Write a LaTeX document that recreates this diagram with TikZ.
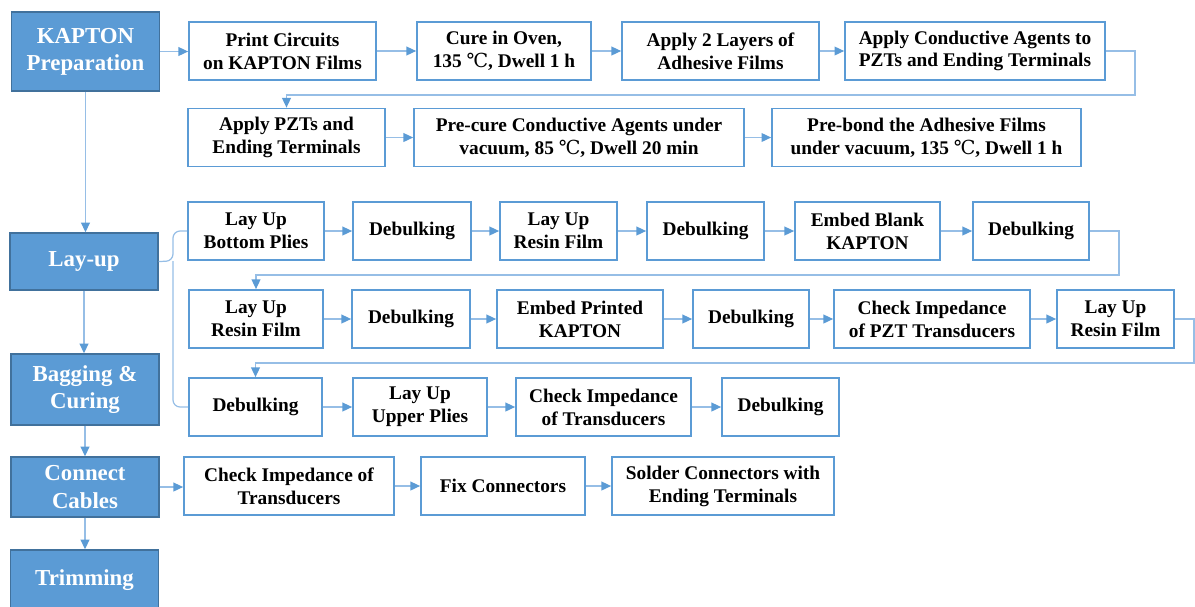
\documentclass[tikz,border=0pt]{standalone}
\usepackage{fontspec}
\setmainfont{Liberation Serif}
\newfontfamily\symfont{DejaVu Serif}
\newcommand{\degc}{{\symfont\mdseries ℃}}
\usetikzlibrary{arrows.meta}
\definecolor{boxblue}{RGB}{91,155,213}
\definecolor{edgeblue}{RGB}{65,113,156}
\definecolor{lineblue}{RGB}{150,190,230}
\tikzset{
  stage/.style={draw=edgeblue, fill=boxblue, text=white, line width=0.8pt, minimum width=2.96cm, align=center, inner sep=0pt, font=\fontsize{13}{15.5}\selectfont\bfseries},
  task/.style={draw=boxblue, fill=white, line width=1pt, minimum height=1.16cm, align=center, inner sep=0pt, font=\fontsize{11}{13}\selectfont\bfseries},
  link/.style={draw=lineblue, line width=0.7pt, -{Triangle[length=5.5pt,width=5pt,color=boxblue]}},
  plain/.style={draw=lineblue, line width=0.7pt}
}
\begin{document}
\begin{tikzpicture}[x=0.02cm,y=-0.02cm]
\useasboundingbox (0,0) rectangle (1195,606);
\node[stage, minimum height=1.58cm] (kapton) at (85.5,51.5) {KAPTON\\Preparation};
\node[stage, minimum height=1.14cm] (layup) at (84,261.5) {Lay-up};
\node[stage, minimum height=1.42cm] (bagging) at (85,389.5) {Bagging \&\\Curing};
\node[stage, minimum height=1.2cm] (connect) at (85,487) {Connect\\Cables};
\node[stage, minimum height=1.2cm] (trim) at (84.5,580) {Trimming};
\node[task, minimum width=3.74cm] (print) at (282.5,51) {Print Circuits\\on KAPTON Films};
\node[task, minimum width=3.48cm] (cure) at (504,51) {Cure in Oven,\\135 \degc, Dwell 1 h};
\node[task, minimum width=3.94cm] (layers) at (720.5,51) {Apply 2 Layers of\\Adhesive Films};
\node[task, minimum width=5.2cm] (agents) at (975,51) {Apply Conductive Agents to\\PZTs and Ending Terminals};
\node[task, minimum width=3.94cm] (pzts) at (286.5,137.5) {Apply PZTs and\\Ending Terminals};
\node[task, minimum width=6.6cm] (precure) at (579,137.5) {Pre-cure Conductive Agents under\\vacuum, 85 \degc, Dwell 20 min};
\node[task, minimum width=6.18cm] (prebond) at (926.5,137.5) {Pre-bond the Adhesive Films\\under vacuum, 135 \degc, Dwell 1 h};
\node[task, minimum width=2.72cm] (bottom) at (256,231) {Lay Up\\Bottom Plies};
\node[task, minimum width=2.36cm] (deba) at (412,231) {Debulking};
\node[task, minimum width=2.34cm] (resina) at (558.5,231) {Lay Up\\Resin Film};
\node[task, minimum width=2.34cm] (debb) at (705.5,231) {Debulking};
\node[task, minimum width=2.9cm] (blank) at (867.5,231) {Embed Blank\\KAPTON};
\node[task, minimum width=2.32cm] (debc) at (1031,231) {Debulking};
\node[task, minimum width=2.68cm] (resinb) at (256,319) {Lay Up\\Resin Film};
\node[task, minimum width=2.36cm] (debd) at (411,319) {Debulking};
\node[task, minimum width=3.32cm] (printed) at (580,319) {Embed Printed\\KAPTON};
\node[task, minimum width=2.32cm] (debe) at (751,319) {Debulking};
\node[task, minimum width=3.92cm] (pzt) at (932,319) {Check Impedance\\of PZT Transducers};
\node[task, minimum width=2.34cm] (resinc) at (1115.5,319) {Lay Up\\Resin Film};
\node[task, minimum width=2.66cm] (debf) at (255.5,407) {Debulking};
\node[task, minimum width=2.68cm] (upper) at (420,407) {Lay Up\\Upper Plies};
\node[task, minimum width=3.5cm] (impa) at (603.5,407) {Check Impedance\\of Transducers};
\node[task, minimum width=2.34cm] (debg) at (780.5,407) {Debulking};
\node[task, minimum width=4.2cm] (impb) at (289,486) {Check Impedance of\\Transducers};
\node[task, minimum width=3.28cm] (fix) at (503,486) {Fix Connectors};
\node[task, minimum width=4.44cm] (solder) at (723,486) {Solder Connectors with\\Ending Terminals};
\foreach \a/\b in {kapton/layup,layup/bagging,bagging/connect,connect/trim}
  \draw[link] (\a.south) -- (\a.south |- \b.north);
\foreach \a/\b in {kapton/print,print/cure,cure/layers,layers/agents,pzts/precure,precure/prebond,bottom/deba,deba/resina,resina/debb,debb/blank,blank/debc,resinb/debd,debd/printed,printed/debe,debe/pzt,pzt/resinc,debf/upper,upper/impa,impa/debg,connect/impb,impb/fix,fix/solder}
  \draw[link] (\a.east) -- (\a.east -| \b.west);
\draw[link] (agents.east) -| (1135,95) -| (pzts.north);
\draw[link] (debc.east) -| (1119,275) -| (resinb.north);
\draw[link] (resinc.east) -| (1194,363) -| (debf.north);
\draw[plain, rounded corners=4pt] (bottom.west) -| (173,261) -- (layup.east);
\draw[plain, rounded corners=4pt] (debf.west) -| (173,261);
\end{tikzpicture}
\end{document}
